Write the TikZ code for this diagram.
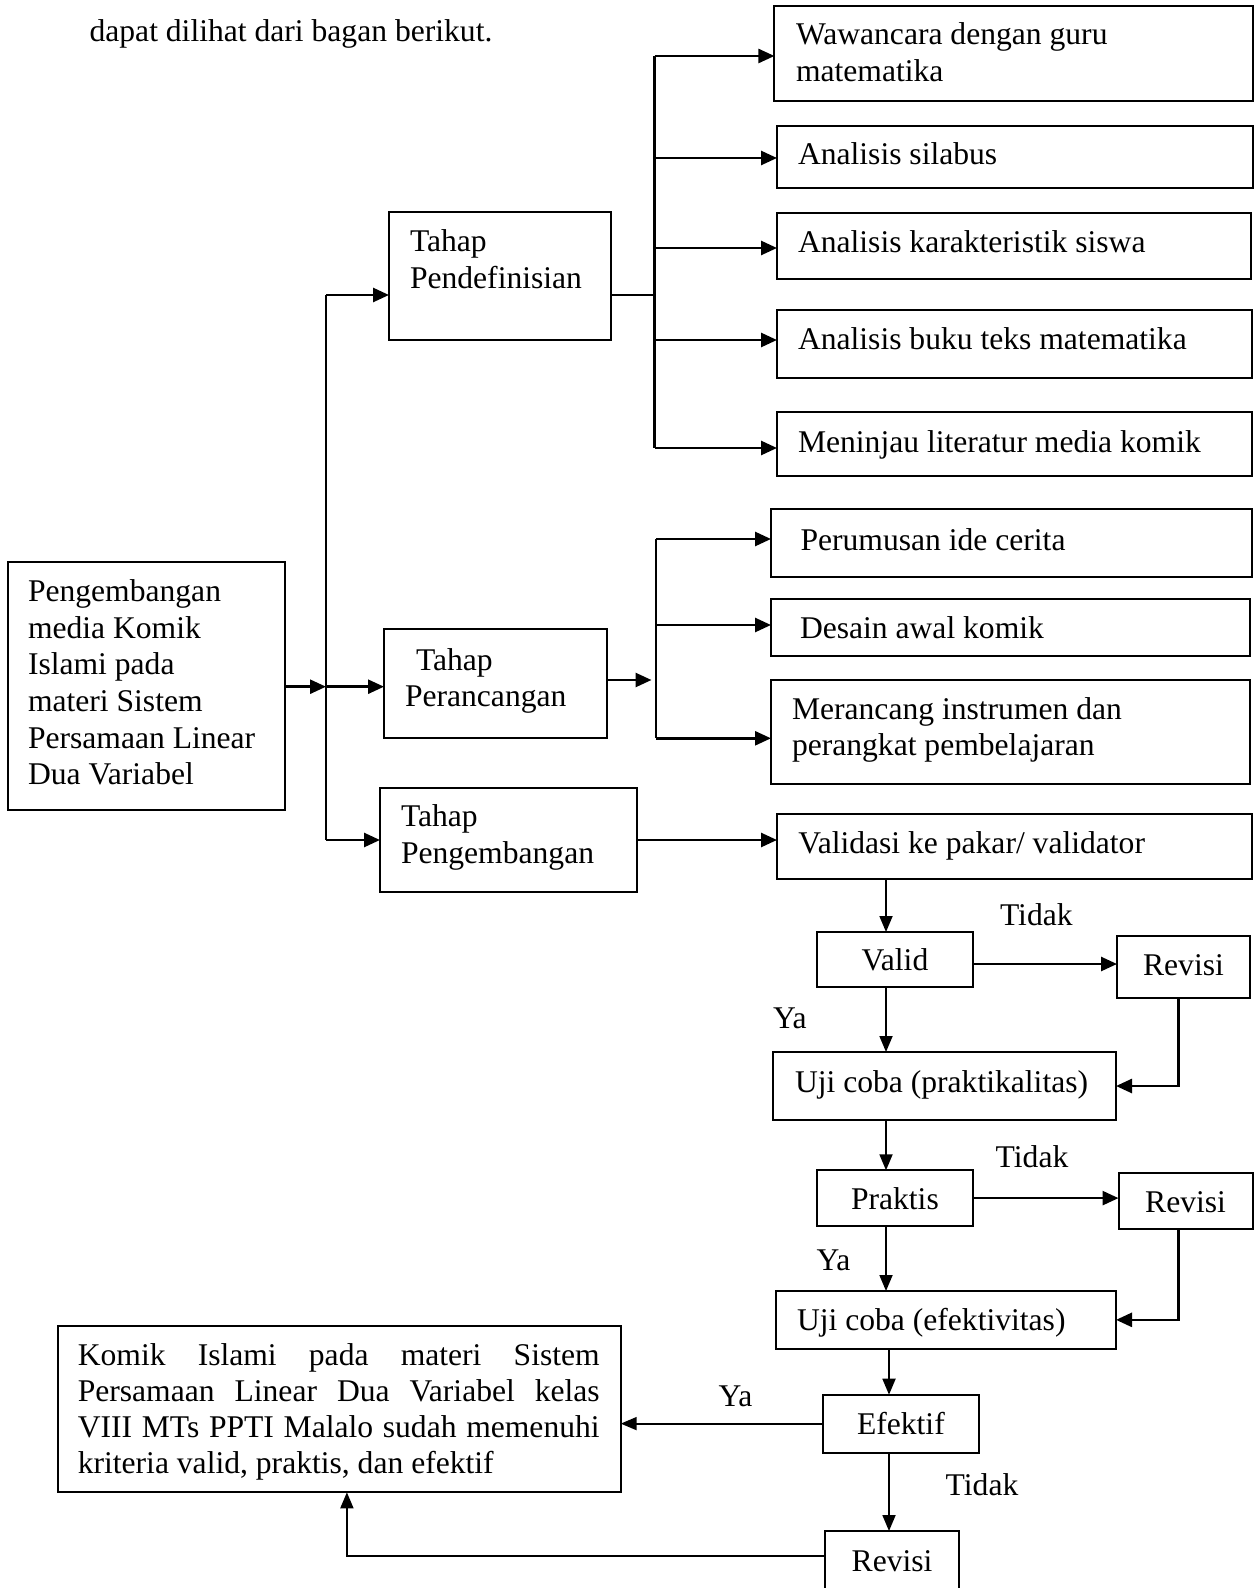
\documentclass[tikz,border=0pt]{standalone}
\usepackage{fontspec}
\setmainfont{Liberation Serif}
\usetikzlibrary{arrows.meta,calc}
\newdimen\pxu \pxu=0.5pt
\newcommand\fs{\fontsize{15.8}{18.3}\selectfont}
% left aligned box text: width, height, left pad, first baseline, text
\newcommand\bt[5]{\parbox[t][#2\pxu][t]{#1\pxu}{\parindent=0pt\relax\leftskip=#3\pxu\relax\rightskip=0pt plus 1fil\relax\parfillskip=0pt plus 1fil\relax\vspace*{\dimexpr#4\pxu-\ht\strutbox\relax}\leavevmode\strut#5\par}}
% centred box text: width, height, first baseline, text
\newcommand\btc[4]{\parbox[t][#2\pxu][t]{#1\pxu}{\parindent=0pt\relax\leftskip=0pt plus 1fil\relax\rightskip=0pt plus 1fil\relax\parfillskip=0pt\relax\vspace*{\dimexpr#3\pxu-\ht\strutbox\relax}\leavevmode\strut#4\par}}
% justified box text: width, height, left pad, right pad, first baseline, text
\newcommand\btj[6]{\parbox[t][#2\pxu][t]{#1\pxu}{\parindent=0pt\relax\leftskip=#3\pxu\relax\rightskip=#4\pxu\relax\parfillskip=0pt plus 1fil\relax\hyphenpenalty=10000\relax\vspace*{\dimexpr#5\pxu-\ht\strutbox\relax}\leavevmode\strut#6\par}}
\tikzset{
  bx/.style={draw, line width=1pt, anchor=north west, inner sep=0pt, outer sep=0pt, font=\fs},
  lbl/.style={anchor=base west, inner sep=0pt, outer sep=0pt, font=\fs},
  ln/.style={line width=1.2pt},
  arr/.style={line width=1.3pt, -{Triangle[length=8pt,width=7pt]}},
  arrs/.style={line width=0.9pt, -{Triangle[length=8pt,width=6.5pt]}},
}
\begin{document}
\begin{tikzpicture}[x=0.5pt,y=-0.5pt]
\useasboundingbox (0,0) rectangle (1259,1588);
\clip (0,0) rectangle (1259,1588);

\node[lbl] (hdr) at (89.6,41.7) {dapat dilihat dari bagan berikut.};

% left column
\node[bx] (main) at (7.6,561.7) {\bt{276.9}{248.3}{20.4}{40}{Pengembangan\\media Komik\\Islami pada\\materi Sistem\\Persamaan Linear\\Dua Variabel}};
\node[bx] (def) at (389,212) {\bt{222}{128}{21}{40}{Tahap\\Pendefinisian}};
\node[bx] (per) at (384,629) {\bt{222.5}{109.3}{21}{41}{\hspace*{11\pxu}Tahap\\Perancangan}};
\node[bx] (peng) at (380,788.3) {\bt{256.5}{103.4}{21}{38.4}{Tahap\\Pengembangan}};

% right column, definition
\node[bx] (waw) at (774.4,6) {\bt{478.4}{94.7}{21.6}{39}{Wawancara dengan guru\\matematika}};
\node[bx] (sil) at (777,125.7) {\bt{476}{62}{21}{39.3}{Analisis silabus}};
\node[bx] (kar) at (777,213) {\bt{473.7}{65.7}{21}{40}{Analisis karakteristik siswa}};
\node[bx] (buk) at (777,310) {\bt{475}{67.7}{21}{40}{Analisis buku teks matematika}};
\node[bx] (men) at (777,412) {\bt{475}{63.7}{21}{41}{Meninjau literatur media komik}};

% design
\node[bx] (rum) at (771,509.3) {\bt{480.5}{67.4}{29.5}{40.7}{Perumusan ide cerita}};
\node[bx] (des) at (771,599) {\bt{479}{57}{29}{39}{Desain awal komik}};
\node[bx] (ran) at (771,680) {\bt{479}{104}{21}{39}{Merancang instrumen dan\\perangkat pembelajaran}};

% development
\node[bx] (vald) at (777,814.3) {\bt{474.5}{64.7}{21.4}{38.7}{Validasi ke pakar/ validator}};
\node[bx] (valid) at (816.6,932) {\btc{156.6}{55}{38.7}{Valid}};
\node[bx] (rev1) at (1117,935.5) {\btc{133}{62.8}{39.5}{Revisi}};
\node[bx] (uji1) at (773,1052) {\bt{343}{68}{22}{40}{Uji coba (praktikalitas)}};
\node[bx] (prak) at (816.6,1170.3) {\btc{156.6}{55.6}{39.3}{Praktis}};
\node[bx] (rev2) at (1118.5,1172.6) {\btc{134.1}{56.4}{40.2}{Revisi}};
\node[bx] (uji2) at (775.7,1291) {\bt{340.3}{57.7}{21.3}{39}{Uji coba (efektivitas)}};
\node[bx] (efek) at (823,1394.7) {\btc{155.8}{57.8}{39.8}{Efektif}};
\node[bx] (rev3) at (825.4,1531) {\btc{133.3}{69}{40}{Revisi}};
\node[bx, font=\fontsize{15.8}{18.05}\selectfont] (komik) at (57.8,1326) {\btj{562.9}{166.3}{20}{21}{39.4}{Komik Islami pada materi Sistem\linebreak Persamaan Linear Dua Variabel kelas\linebreak VIII MTs PPTI Malalo sudah memenuhi\linebreak kriteria valid, praktis, dan efektif}};

% labels
\node[lbl] (t1) at (1000,925) {Tidak};
\node[lbl] (y1) at (773,1028) {Ya};
\node[lbl] (t2) at (995.7,1167) {Tidak};
\node[lbl] (y2) at (816.6,1270) {Ya};
\node[lbl] (y3) at (718.6,1406) {Ya};
\node[lbl] (t3) at (945.7,1495) {Tidak};

% trunk
\coordinate (tt) at (326,295);
\coordinate (tm) at (326,686.7);
\coordinate (tb) at (326,840);
\draw[ln] (tt) -- (tb);
\draw[arr] (main.east |- tm) -- (tm);
\draw[arr] (tt) -- (tt -| def.west);
\draw[arr] (tm) -- (tm -| per.west);
\draw[arr] (tb) -- (tb -| peng.west);

% branch 1
\coordinate (b1t) at (654.6,56);
\coordinate (b1s) at (654.6,158);
\coordinate (b1k) at (654.6,248);
\coordinate (b1j) at (654.6,295);
\coordinate (b1u) at (654.6,340);
\coordinate (b1b) at (654.6,448);
\draw[ln] (def.east |- b1j) -- (b1j);
\draw[ln] (b1t) -- (b1b);
\draw[arr] (b1t) -- (b1t -| waw.west);
\draw[arr] (b1s) -- (b1s -| sil.west);
\draw[arr] (b1k) -- (b1k -| kar.west);
\draw[arr] (b1u) -- (b1u -| buk.west);
\draw[arr] (b1b) -- (b1b -| men.west);

% branch 2
\coordinate (b2in) at (651.5,680);
\coordinate (b2t) at (656,539);
\coordinate (b2d) at (656,625);
\coordinate (b2b) at (656,738.3);
\draw[arr] (per.east |- b2in) -- (b2in);
\draw[ln] (b2t) -- (b2b);
\draw[arr] (b2t) -- (b2t -| rum.west);
\draw[arr] (b2d) -- (b2d -| des.west);
\draw[arr] (b2b) -- (b2b -| ran.west);

% development flow
\draw[arr] (peng.east) -- (peng.east -| vald.west);
\coordinate (cx) at (886,0);
\coordinate (cx2) at (889,0);
\coordinate (rx) at (1178.7,0);
\coordinate (r1y) at (0,964);
\coordinate (r3y) at (0,1556);
\coordinate (kx) at (346.9,0);
\draw[arrs] (vald.south -| cx) -- (valid.north -| cx);
\draw[arr] (valid.east |- r1y) -- (rev1.west |- r1y);
\draw[arrs] (valid.south -| cx) -- (uji1.north -| cx);
\draw[arr] (rev1.south -| rx) |- (uji1.east);
\draw[arrs] (uji1.south -| cx) -- (prak.north -| cx);
\draw[arr] (prak.east) -- (prak.east -| rev2.west);
\draw[arrs] (prak.south -| cx) -- (uji2.north -| cx);
\draw[arr] (rev2.south -| rx) |- (uji2.east);
\draw[arrs] (uji2.south -| cx2) -- (efek.north -| cx2);
\draw[arrs] (efek.west) -- (efek.west -| komik.east);
\draw[arrs] (efek.south -| cx2) -- (rev3.north -| cx2);
\draw[arrs] (rev3.west |- r3y) -| (komik.south -| kx);
\end{tikzpicture}
\end{document}
